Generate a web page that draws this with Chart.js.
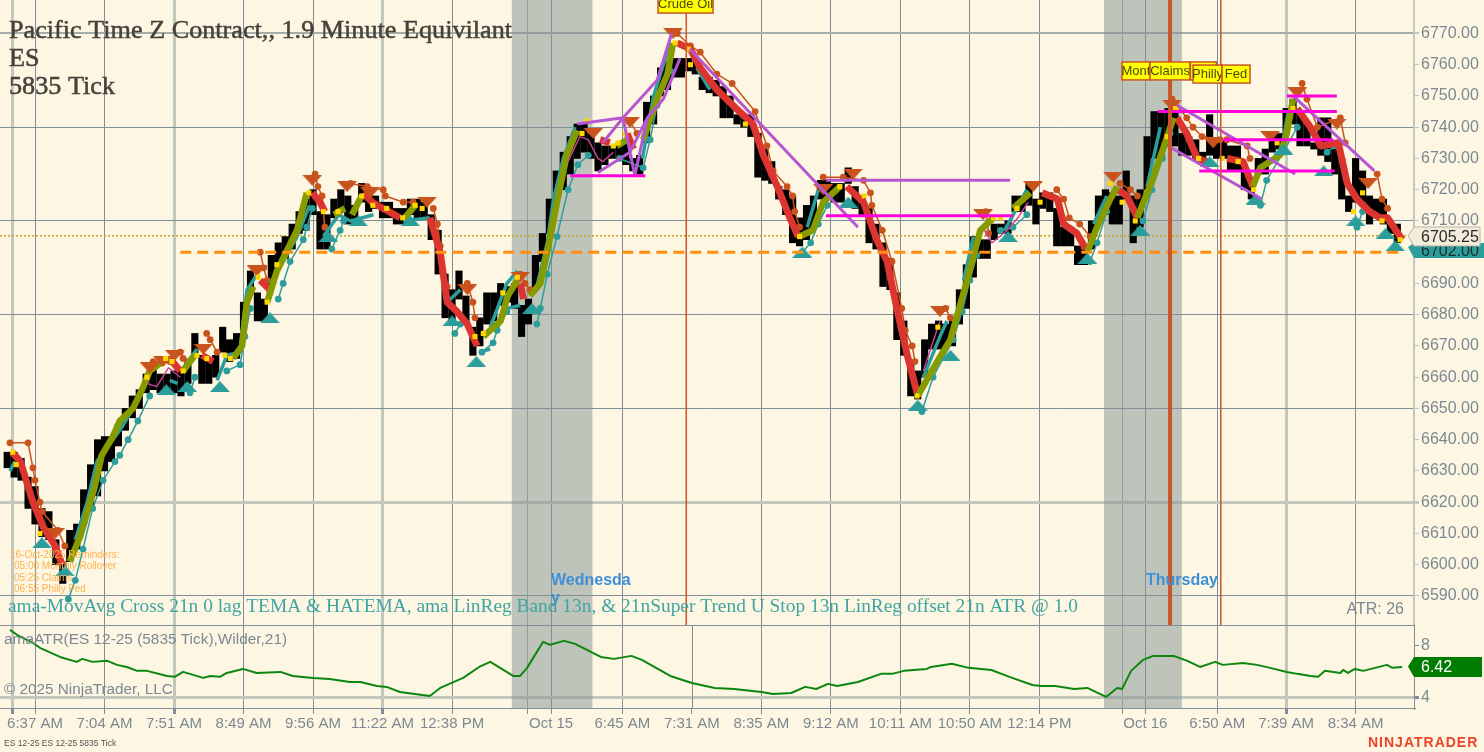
<!DOCTYPE html>
<html>
<head>
<meta charset="utf-8">
<title>ES 12-25 5835 Tick</title>
<script src="https://cdn.jsdelivr.net/npm/chart.js@4"></script>
<style>
html, body { margin: 0; padding: 0; background: #fdf6e3; overflow: hidden; }
canvas { display: block; }
</style>
</head>
<body>
<canvas id="priceChart" width="1484" height="752"></canvas>
<script>
// x position of everything below is a "slot": one black bar block = one slot
const barHighs = [6636,6636,6634,6628,6625,6618,6617,6608,6601,6611,6613,6624,6632,6640,6641,6641,6645,6650,6654,6656,
  6661,6663,6661,6661,6662,6663,6665,6674,6667,6666,6667,6676,6672,6674,6684,6694,6687,6685,6699,6703,
  6705,6709,6713,6717,6720,6713,6712,6717,6720,6718,6715,6722,6718,6718,6716,6716,6714,6714,6717,6717,
  6716,6712,6707,6693,6688,6694,6686,6676,6679,6687,6687,6690,6689,6690,6683,6685,6699,6706,6717,6726,
  6732,6737,6741,6741,6738,6735,6734,6734,6734,6736,6730,6731,6748,6750,6759,6761,6762,6762,6762,6761,
  6756,6756,6755,6753,6750,6744,6744,6744,6738,6733,6729,6721,6720,6718,6711,6715,6718,6723,6723,6722,
  6722,6727,6721,6718,6714,6709,6703,6698,6687,6678,6665,6662,6672,6677,6678,6677,6678,6688,6696,6705,
  6704,6704,6709,6709,6710,6718,6718,6722,6717,6719,6719,6714,6708,6708,6702,6701,6710,6718,6720,6719,
  6718,6726,6718,6720,6737,6745,6745,6746,6745,6738,6737,6736,6732,6744,6736,6736,6734,6734,6728,6722,
  6730,6733,6738,6738,6746,6749,6745,6741,6735,6743,6743,6733,6730,6718,6730,6726,6718,6717,6717,6709,6709];
const barLows = [6631,6628,6627,6618,6613,6609,6608,6600,6594,6601,6605,6613,6618,6622,6630,6633,6638,6643,6647,6650,
  6655,6656,6655,6656,6655,6654,6658,6667,6658,6658,6660,6668,6665,6666,6675,6687,6678,6678,6689,6695,
  6698,6701,6706,6707,6712,6701,6701,6711,6714,6709,6709,6716,6713,6714,6711,6711,6709,6709,6712,6711,
  6711,6704,6693,6679,6678,6685,6677,6667,6670,6677,6678,6683,6684,6682,6673,6677,6688,6697,6706,6717,
  6720,6725,6730,6732,6730,6726,6728,6730,6730,6728,6726,6725,6735,6741,6750,6752,6756,6756,6758,6757,
  6752,6751,6750,6743,6743,6741,6740,6737,6724,6723,6722,6717,6712,6703,6702,6704,6708,6717,6717,6716,
  6716,6722,6714,6712,6703,6701,6689,6688,6672,6667,6654,6653,6660,6669,6669,6669,6670,6677,6682,6692,
  6698,6698,6704,6706,6706,6713,6713,6715,6709,6714,6713,6702,6702,6702,6696,6696,6701,6711,6712,6709,
  6709,6717,6703,6708,6720,6730,6730,6734,6734,6731,6731,6730,6729,6731,6730,6730,6726,6726,6720,6717,
  6725,6725,6732,6733,6738,6741,6734,6734,6733,6731,6729,6725,6717,6713,6716,6716,6709,6711,6709,6706,6703];

// thick moving average, rising legs [slot, price]
const temaUpLegs = [
  [[9,6601],[10.5,6609],[12.6,6625],[13.6,6635],[15.2,6641],[16.2,6646],[18.1,6650],[19.4,6656],[20.5,6662],[23,6666]],
  [[25.3,6662],[27,6667]],
  [[32.5,6666],[33.8,6670],[34.5,6684],[35.4,6689]],
  [[37.4,6684],[38.8,6694],[41.7,6707],[43.1,6719]],
  [[47,6712],[48.6,6714]],
  [[49.6,6712],[51,6718]],
  [[57.2,6711],[58.7,6715]],
  [[68.5,6673],[71,6678],[72,6686],[73.4,6691]],
  [[75.2,6686],[76.7,6690],[77.7,6700],[79.1,6716],[80.5,6731],[82,6739]],
  [[87.7,6734],[89.2,6736]],
  [[91.5,6736],[93.5,6749],[95,6757],[95.8,6767]],
  [[114,6705],[115.9,6707],[117.4,6716],[119.8,6721]],
  [[131,6654],[133.8,6665],[135.7,6672],[138.1,6691],[140,6707],[141.9,6711]],
  [[144.7,6714],[147.2,6719]],
  [[155.4,6700],[156.8,6708],[158.7,6717],[159.7,6721]],
  [[162.6,6711],[164.9,6724],[166.9,6737],[167.8,6743]],
  [[179.2,6721],[180.3,6727],[183.1,6731],[184.1,6738],[185,6749]]
];
// thick moving average, falling legs
const temaDownLegs = [
  [[0.7,6636],[1.9,6633],[3.7,6620],[5.2,6612],[6.9,6606],[7.9,6600]],
  [[23.4,6666],[24.9,6662]],
  [[28,6667],[29.6,6665]],
  [[36.4,6691],[37.8,6688]],
  [[43.9,6719],[45,6716],[45.7,6713]],
  [[51.2,6719],[52.5,6716],[54.1,6714],[56.5,6711]],
  [[60.8,6711],[62.3,6700],[63.3,6684],[64.7,6681],[66.2,6677],[67.6,6670]],
  [[73.8,6690],[74.3,6685]],
  [[85.3,6736],[86.7,6735]],
  [[89.2,6738],[90.1,6733]],
  [[96.4,6767],[98.3,6765],[99.7,6759],[102.1,6752],[104.4,6747],[107.3,6741],[108.8,6731],[110.8,6721],[112.6,6711],[113.8,6705]],
  [[120.8,6721],[123.2,6716],[125.1,6704],[126.6,6697],[128,6682],[129.5,6667],[130.9,6655]],
  [[148.9,6719],[151.1,6717],[152,6709],[153.9,6706],[155.2,6701]],
  [[159.8,6720],[161.1,6718],[162.6,6711]],
  [[168.3,6743],[169.7,6738],[171.2,6730],[172.6,6729]],
  [[175.5,6730],[177.8,6729],[179.2,6721]],
  [[185.6,6746],[187.5,6740],[189,6734],[191.5,6735],[192.8,6722],[194.2,6717],[196,6713],[197.5,6711],[198.6,6711],[200.7,6704]]
];
// linreg band
const linRegLegs = [
  [[0.4,6630],[1.1,6633]],
  [[9.8,6608],[11.5,6620],[12.9,6633],[15.2,6640],[16.2,6643],[18.7,6652],[19.8,6658]],
  [[23.4,6659],[24.5,6658]],
  [[25,6662],[27.3,6669]],
  [[30.2,6659],[31.6,6667],[33.5,6668],[33.8,6675],[34.5,6688],[36,6693]],
  [[37.8,6690],[39.7,6697],[41.7,6705],[43.5,6715]],
  [[45.5,6705],[47.7,6712],[49.4,6710],[52.7,6712]],
  [[57,6710],[60.8,6711]],
  [[63.3,6684],[65.2,6688]],
  [[68,6668],[69.5,6669]],
  [[69.5,6676],[71.9,6690],[73.4,6694]],
  [[71.9,6682],[73.8,6683]],
  [[76.2,6689],[77.7,6703],[78.6,6717],[80,6730],[81.7,6740]],
  [[91.4,6730],[93,6750],[94.4,6760],[95.4,6767]],
  [[99.2,6759],[101.1,6752]],
  [[115.1,6708],[116.7,6720]],
  [[131.8,6660],[134.2,6673],[135.2,6678]],
  [[137.6,6691],[139,6705]],
  [[143.5,6707],[146.7,6720]],
  [[156.3,6709],[158.2,6718]],
  [[164,6721],[165.9,6740]],
  [[183.2,6731],[184.3,6745]]
];
const pinkLegs = [
  [[20.1,6658],[21.5,6657],[23.2,6663],[24.9,6660]],
  [[80.7,6729],[82.4,6737],[83.6,6736],[85,6730],[85.7,6729],[87.2,6732]],
  [[131.8,6662],[134.2,6678]],
  [[140.6,6707],[141.7,6703],[143.9,6707],[145.4,6711],[146.9,6716]]
];
// super trend stops
const stopUpLegs = [
  [[8.8,6589],[9.8,6595],[10.9,6605],[12.3,6618],[13.8,6627],[15.5,6633],[16.2,6635],[17.4,6640],[18.8,6646],[20.5,6654]],
  [[26.3,6655],[27,6660]],
  [[31.6,6662],[33.5,6664],[34.2,6673],[35,6682]],
  [[39,6685],[39.7,6690],[40.7,6697],[42.6,6704],[43.1,6708],[43.9,6714]],
  [[46.7,6701],[47.9,6707],[48.4,6710]],
  [[64.4,6674],[65.2,6677]],
  [[68.3,6668],[69.9,6671],[70.5,6675],[71.9,6681]],
  [[76.2,6677],[76.7,6682],[77.7,6693],[79.1,6705],[80.7,6720],[82.1,6728],[83.6,6731]],
  [[88.1,6730],[91.5,6727],[92.5,6736],[93.5,6747],[95.4,6758]],
  [[114.4,6700],[115.6,6703],[116.7,6709],[118,6715]],
  [[131.6,6649],[133.2,6660],[136.1,6672],[137.4,6681],[138.5,6691],[139.5,6699]],
  [[142.9,6707],[144.7,6708],[146.7,6712]],
  [[155.8,6697],[156.8,6703],[158.2,6713]],
  [[163.4,6710],[164.7,6720],[166.2,6730],[167.3,6738]],
  [[180.3,6715],[181.2,6723],[183.6,6732],[185.6,6740]],
  [[189.9,6732],[191,6734]],
  [[194.2,6708],[195,6713]]
];
const stopDownLegs = [
  [[0.4,6639],[3,6639],[3.7,6631],[4,6627],[4.7,6620],[5,6617],[7.3,6611],[8.3,6606]],
  [[21,6665],[23.4,6665]],
  [[24.9,6668],[25.3,6666],[25.9,6665]],
  [[28.7,6674],[29.2,6672],[30.2,6668]],
  [[36.4,6700],[36.9,6695],[37.4,6691],[37.8,6687]],
  [[44.3,6725],[44.7,6721],[45.3,6718],[45.7,6708]],
  [[49.4,6722],[51.8,6721],[54.1,6720],[54.4,6718],[57,6716],[58.4,6716]],
  [[61.3,6714],[61.9,6709],[62.3,6702],[62.6,6694],[63.3,6689]],
  [[66.2,6690],[67,6684],[67.3,6679]],
  [[73.8,6693],[74.5,6690],[75.2,6688]],
  [[89.6,6742],[90.6,6738]],
  [[96.4,6770],[98.3,6766],[99.7,6764],[102.1,6757],[104.3,6754],[107.6,6745],[109.3,6734],[110.2,6726],[112.2,6721],[113,6718],[113.3,6713],[114,6708]],
  [[117.4,6724],[120.3,6724],[123.2,6723],[124.2,6719],[124.4,6715],[125.9,6707],[127.3,6697],[128.7,6682],[129.2,6675],[130.2,6670],[130.6,6665]],
  [[135,6682],[135.7,6679]],
  [[140.8,6713],[141.2,6706]],
  [[151,6720],[152,6717],[152.8,6711],[154.3,6709],[155.8,6705]],
  [[160.1,6722],[161.6,6720],[162.6,6718]],
  [[167.6,6749],[169.7,6743],[170.6,6740],[171.9,6737],[174.5,6736],[175.5,6736],[178.4,6734],[178.8,6730]],
  [[186.3,6754],[187,6749],[188.5,6740],[191.8,6743],[192.5,6735]],
  [[197.1,6725],[197.8,6717],[198.6,6714]]
];
const crossDots = [[0.8,6636],[1.3,6632],[4.7,6610],[20.1,6660],[22.8,6666],[23.7,6665],[25.3,6662],[27.3,6667],[28.7,6666],[31.3,6667],
  [32.1,6666],[36.1,6692],[37.4,6684],[38.8,6696],[43.4,6719],[45.5,6713],[47.6,6713],[51,6718],[52.6,6715],[54.6,6714],[56.9,6711],
  [58.7,6715],[59.7,6714],[67.3,6673],[68.5,6674],[71.3,6687],[73.4,6692],[82.7,6738],[83.4,6742],[87.2,6734],[87.9,6735],[88.9,6738],
  [96.1,6767],[98,6765],[98.3,6760],[106.2,6741],[114,6705],[119.8,6721],[123.3,6718],[130.9,6654],[133.9,6676],[141.9,6711],[142.9,6711],
  [145.3,6714],[148.6,6716],[158.7,6722],[160.4,6716],[162.3,6710],[166.9,6737],[168.1,6746],[171.4,6730],[174.8,6730],[177.1,6729],
  [179.3,6720],[182.7,6735],[185,6746],[193.7,6713],[195,6719],[197.8,6710],[200.4,6704]];
const swingHighs = [[6.9,6610],[20.5,6663],[22.4,6665],[24.1,6667],[28.2,6669],[35.9,6694],[43.9,6723],[48.9,6721],[52.2,6719],[60.4,6716],
  [66.2,6688],[73.8,6692],[84.3,6738],[89.6,6741.5],[95.8,6770],[117.4,6720],[121.7,6725],[134.2,6681],[140.4,6712],[147.6,6721],
  [159.1,6724],[167.6,6747],[173.5,6735],[181.7,6737],[185.6,6751],[191.3,6741],[195.8,6722]];
const swingLows = [[5,6607],[8.3,6598],[22.9,6656],[25.9,6657],[30.6,6657],[37.8,6679],[46.2,6705],[50.5,6710],[58,6710],[64,6678],
  [67.5,6665],[75.5,6682],[114.4,6700],[121,6716],[131,6651],[135.7,6667],[144,6705],[155.4,6698],[163,6707],[173,6729],
  [179.6,6717],[183.6,6733],[189.4,6726],[194,6710],[198.3,6706],[199.7,6702]];
// hand drawn levels
const trendLines = [
  [[82,6741],[88.6,6743],[93.5,6755],[95.6,6770]],
  [[85,6725.5],[89.6,6732],[92.1,6743],[94.4,6749],[96.8,6762]],
  [[85.7,6735],[88.6,6743],[90.3,6724.5],[92.1,6743]],
  [[98.2,6765],[122.4,6708]],
  [[117.8,6723],[144.3,6723]],
  [[168.3,6747],[185.3,6725]],
  [[167,6734],[180.5,6717]],
  [[185,6750],[196.7,6726]]
];
const levelLines = [
  [[81,6724.5],[91.8,6724.5]],
  [[117.8,6711.7],[144.7,6711.7]],
  [[165.6,6745],[191.3,6745]],
  [[184.1,6750],[191.3,6750]],
  [[175,6736],[190.8,6736]],
  [[171.5,6726],[191,6726]]
];
const dashedLevel = [[24.9,6700],[200.9,6700]];
const lastPrice = 6705.25;
const entryPrice = 6702;
const atrNow = 6.42;

const atrSlots = [0.4,1.4,3.7,4.7,7.6,10,10.8,12.3,14.4,15.8,17.2,18.7,20.1,23,24.1,25.3,28.2,29.2,30.6,31.6,33.9,35.9,39.3,41.1,44,46.4,49.3,50.8,53.2,54.6,56.5,60.8,
  62.3,65.6,67.9,69.5,72.8,73.8,74.8,77.1,78.1,80.1,81.7,85.4,87.3,89.8,91.3,95.4,98.5,101.8,104.6,108.5,110.2,112.8,114.8,116.4,118.1,119.4,122.4,125.7,127.3,129,132.3,132.9,135.9,
  138.3,141.6,144.2,147.5,148.8,150.8,153.5,155.4,158.1,159.7,160.4,161.7,163.4,164.9,167.8,169.8,171.6,173.8,174.9,177.8,179.8,181.7,184.1,185.6,187.5,188.6,189.6,191.8,192.2,192.9,193.9,195.1,196.8,198.5,199.3,200.7];
const atrValues = [9.23,8.85,8.23,7.85,7.15,6.77,7,6.77,6.85,6.54,6.38,6.08,6.08,5.69,5.62,6,5.54,5.69,5.62,5.92,6.23,5.92,6,5.69,5.54,5.46,5.23,5.23,4.92,4.85,4.46,4.15,
  4.77,5.54,6.38,6.77,5.69,5.69,6.31,8.31,8.08,8.38,8.15,7.15,7,7.23,6.92,5.69,5.15,4.77,4.69,4.46,4.31,4.38,4.85,4.69,5.08,4.92,5.23,5.85,5.85,6.08,6.23,6.38,6.62,
  6.31,6.15,5.62,5,4.92,4.92,4.69,4.77,4.08,4.77,4.69,6.08,6.92,7.23,7.23,6.85,6.38,6.77,6.54,6.69,6.54,6.31,6,5.85,5.69,5.62,6.08,5.92,6.15,5.92,6.23,6.08,6.31,6.54,6.31,6.38];

const xTickSlots = [0.7,4,14,24,34,44,54,64,74.8,78.25,88.5,98.5,108.5,118.5,128.5,138.5,148.5,160.4,163.75,174.1,184,194];
const xTickLabels = ['','6:37 AM','7:04 AM','7:51 AM','8:49 AM','9:56 AM','11:22 AM','12:38 PM','','Oct 15','6:45 AM','7:31 AM','8:35 AM','9:12 AM','10:11 AM','10:50 AM','12:14 PM','','Oct 16','6:50 AM','7:39 AM','8:34 AM'];
const softGridSlots = [0.7,24,54,184];
const bandGridSlots = [74.8,160.4];
const atrOnlyGridSlots = [98.5];
const priceTicks = [6590,6600,6610,6620,6630,6640,6650,6660,6670,6680,6690,6700,6710,6720,6730,6740,6750,6760,6770];
const priceGridLevels = [6770,6740,6710,6680,6650,6620,6590];
const atrTicks = [4,8];

const sessionBands = [[72.6,84.2],[157.8,169]];
const newsLines = [[97.7,1.5],[167.3,4],[174.6,1.5]];
const newsBoxes = [
  ['Crude Oil',97.6,6779.4,55],
  ['Mont',162.4,6758,28],
  ['Claims',167.3,6758,40],
  ['',172.1,6758,26],
  ['Philly',172.7,6757,29],
  ['Fed',176.8,6757,28]
];

const GRID = '#7f8e98', SOFT = '#c3c8bd', AXIS_TEXT = '#7c8993';
const ORANGE = '#c9531c', TEAL = '#2b9e9b', SANS = '"Liberation Sans", Arial, sans-serif', SERIF = '"Liberation Serif", serif';

const toPoints = rows => rows.map(r => ({x: r[0], y: r[1]}));
const joinLegs = legs => legs.flatMap(leg => [...toPoints(leg), {x: leg[leg.length - 1][0], y: null}]);

function triangleSprite(color, pointsDown) {
    const c = document.createElement('canvas');
    c.width = 20; c.height = 11;
    const g = c.getContext('2d');
    g.fillStyle = color;
    g.beginPath();
    if (pointsDown) { g.moveTo(0, 0); g.lineTo(20, 0); g.lineTo(10, 11); }
    else { g.moveTo(10, 0); g.lineTo(20, 11); g.lineTo(0, 11); }
    g.fill();
    return c;
}

const lineSet = (data, color, width, extra) => Object.assign({
    type: 'line', data, borderColor: color, backgroundColor: color, borderWidth: width,
    pointRadius: 0, tension: 0, spanGaps: false, borderJoinStyle: 'round'
}, extra);

const datasets = [
    lineSet(toPoints(dashedLevel), '#ff8f0f', 3, {borderDash: [11, 6]}),
    lineSet(joinLegs(levelLines), '#ff00dc', 3),
    lineSet(joinLegs(trendLines), '#b656d2', 3),
    {type: 'line', data: toPoints(crossDots), showLine: false, pointStyle: 'rect', pointRadius: 3.6, backgroundColor: '#ffd600', borderWidth: 0},
    {type: 'line', data: toPoints(swingHighs), showLine: false, pointStyle: triangleSprite(ORANGE, true)},
    {type: 'line', data: toPoints(swingLows), showLine: false, pointStyle: triangleSprite(TEAL, false)},
    lineSet(joinLegs(pinkLegs), '#d0409c', 1.4),
    lineSet(joinLegs(temaUpLegs), '#879b00', 6.5),
    lineSet(joinLegs(temaDownLegs), '#dc3530', 7),
    lineSet(joinLegs(linRegLegs), TEAL, 3.5),
    lineSet(joinLegs(stopUpLegs), TEAL, 1.5, {pointRadius: 3.4, pointBackgroundColor: TEAL, pointBorderWidth: 0}),
    lineSet(joinLegs(stopDownLegs), ORANGE, 1.5, {pointRadius: 3.4, pointBackgroundColor: ORANGE, pointBorderWidth: 0}),
    {type: 'bar', data: barHighs.map((h, i) => ({x: i, y: [barLows[i], h]})), backgroundColor: '#000', barThickness: 6.5, grouped: false},
    lineSet([{x: -1.036, y: lastPrice}, {x: 202.4, y: lastPrice}], '#c9a52c', 1.6, {borderDash: [2, 2]}),
    lineSet(atrSlots.map((s, i) => ({x: s, y: atrValues[i]})), '#0b860f', 2, {yAxisID: 'yAtr'})
].map((d, i) => Object.assign(d, {order: i}));

function priceTag(ctx, y, top, bottom, right, fill, stroke, color, text) {
    ctx.beginPath();
    ctx.moveTo(1408, y);
    ctx.lineTo(1414, top);
    ctx.lineTo(right, top);
    ctx.lineTo(right, bottom);
    ctx.lineTo(1414, bottom);
    ctx.closePath();
    ctx.fillStyle = fill;
    ctx.fill();
    if (stroke) { ctx.strokeStyle = stroke; ctx.lineWidth = 1; ctx.stroke(); }
    ctx.fillStyle = color;
    ctx.font = '16px ' + SANS;
    ctx.textAlign = 'left';
    ctx.textBaseline = 'middle';
    ctx.fillText(text, 1421, (top + bottom) / 2 + 1);
}

const overlays = {
    id: 'overlays',
    beforeDatasetsDraw(chart) {
        const {ctx, chartArea, scales} = chart;
        ctx.save();
        ctx.fillStyle = 'rgba(129,146,145,0.5)';
        sessionBands.forEach(b => {
            const l = scales.x.getPixelForValue(b[0]), r = scales.x.getPixelForValue(b[1]);
            ctx.fillRect(l, chartArea.top, r - l, chartArea.bottom - chartArea.top);
        });
        // pane separator and the ticks that only show in the lower pane
        ctx.strokeStyle = GRID;
        ctx.lineWidth = 1;
        ctx.beginPath();
        ctx.moveTo(0, scales.y.bottom + 0.5);
        ctx.lineTo(chartArea.right, scales.y.bottom + 0.5);
        atrOnlyGridSlots.forEach(s => {
            const px = Math.round(scales.x.getPixelForValue(s)) + 0.5;
            ctx.moveTo(px, scales.yAtr.top);
            ctx.lineTo(px, chartArea.bottom);
        });
        ctx.stroke();
        ctx.restore();
    },
    afterDatasetsDraw(chart) {
        const {ctx, scales} = chart;
        ctx.save();
        ctx.strokeStyle = '#c9552a';
        newsLines.forEach(n => {
            const px = scales.x.getPixelForValue(n[0]);
            ctx.lineWidth = n[1];
            ctx.beginPath();
            ctx.moveTo(px, 0);
            ctx.lineTo(px, scales.y.bottom);
            ctx.stroke();
        });
        // news flags
        ctx.font = '13px ' + SANS;
        ctx.textAlign = 'center';
        ctx.textBaseline = 'middle';
        newsBoxes.forEach(b => {
            const cx = scales.x.getPixelForValue(b[1]), cy = scales.y.getPixelForValue(b[2]);
            ctx.fillStyle = '#ffff00';
            ctx.fillRect(cx - b[3] / 2, cy - 9, b[3], 18);
            ctx.strokeStyle = '#c9552a';
            ctx.lineWidth = 1.5;
            ctx.strokeRect(cx - b[3] / 2, cy - 9, b[3], 18);
            ctx.fillStyle = '#4a4a10';
            ctx.fillText(b[0], cx, cy);
        });

        ctx.textAlign = 'left';
        ctx.textBaseline = 'alphabetic';
        // regular serif with a hairline stroke, the bold cut is too heavy here
        ctx.fillStyle = '#46413a';
        ctx.strokeStyle = '#46413a';
        ctx.lineWidth = 0.5;
        ctx.font = '26.2px ' + SERIF;
        [['Pacific Time Z Contract,, 1.9 Minute Equivilant', 38], ['ES', 66], ['5835 Tick', 94]].forEach(t => {
            ctx.fillText(t[0], 9, t[1]);
            ctx.strokeText(t[0], 9, t[1]);
        });

        ctx.fillStyle = '#ffb24d';
        ctx.font = '10px ' + SANS;
        ctx.fillText('16-Oct-2025 Reminders:', 10, 558);
        ctx.fillText('05:00 Monthly Rollover', 14, 569);
        ctx.fillText('05:25 Claims', 14, 581);
        ctx.fillText('06:55 Philly Fed', 14, 592);

        ctx.fillStyle = '#3f8fd8';
        ctx.font = 'bold 16px ' + SANS;
        ctx.fillText('Wednesda', 551, 585);
        ctx.fillText('y', 551, 603);
        ctx.fillText('Thursday', 1146, 585);

        ctx.fillStyle = '#3fa5a2';
        ctx.font = '19.4px ' + SERIF;
        ctx.fillText('ama-MovAvg Cross 21n 0 lag TEMA & HATEMA, ama LinReg Band 13n, & 21nSuper Trend U Stop 13n LinReg offset 21n ATR @ 1.0', 8, 612);

        ctx.fillStyle = AXIS_TEXT;
        ctx.font = '16px ' + SANS;
        ctx.textAlign = 'right';
        ctx.fillText('ATR: 26', 1404, 614);
        ctx.textAlign = 'left';
        ctx.font = '15.4px ' + SANS;
        ctx.fillText('amaATR(ES 12-25 (5835 Tick),Wilder,21)', 4, 644);
        ctx.font = '15.3px ' + SANS;
        ctx.fillText('\u00a9 2025 NinjaTrader, LLC', 4, 694);

        ctx.fillStyle = '#555';
        ctx.font = '8.5px ' + SANS;
        ctx.fillText('ES 12-25 ES 12-25 5835 Tick', 4, 746);
        ctx.fillStyle = '#e8452a';
        ctx.font = 'bold 14px ' + SANS;
        ctx.letterSpacing = '1px';
        ctx.fillText('NINJATRADER', 1368, 747);
        ctx.letterSpacing = '0px';

        priceTag(ctx, scales.y.getPixelForValue(entryPrice) + 1, 243, 258, 1484, TEAL, null, '#1d2b2b', entryPrice.toFixed(2));
        priceTag(ctx, scales.y.getPixelForValue(lastPrice), 227, 246, 1480, '#f3ecdb', '#b8b5a8', '#2a2a2a', lastPrice.toFixed(2));
        priceTag(ctx, scales.yAtr.getPixelForValue(atrNow), 657, 677, 1482, '#007c00', null, '#fff', atrNow.toFixed(2));
        ctx.restore();
    }
};

const noPadding = s => { s.paddingLeft = s.paddingRight = s.paddingTop = s.paddingBottom = 0; };

new Chart(document.getElementById('priceChart').getContext('2d'), {
    data: { datasets },
    plugins: [overlays],
    options: {
        responsive: false,
        animation: false,
        events: [],
        layout: { padding: 0, autoPadding: false },
        plugins: { legend: { display: false }, tooltip: { enabled: false } },
        scales: {
            x: {
                type: 'linear',
                offset: false,
                min: -1.036,
                max: 202.4,
                afterBuildTicks: s => { s.ticks = xTickSlots.map(v => ({value: v})); },
                afterFit: s => { s.height = 44; noPadding(s); },
                border: { color: GRID, width: 1 },
                grid: {
                    offset: false,
                    tickLength: 6,
                    color: c => {
                        const v = c.tick && c.tick.value;
                        if (atrOnlyGridSlots.includes(v)) return 'rgba(0,0,0,0)';
                        if (softGridSlots.includes(v)) return SOFT;
                        if (bandGridSlots.includes(v)) return '#a3aaa6';
                        return GRID;
                    },
                    lineWidth: c => softGridSlots.includes(c.tick && c.tick.value) ? 3 : 1,
                    tickColor: GRID
                },
                ticks: {
                    autoSkip: false,
                    maxRotation: 0,
                    padding: 1,
                    color: AXIS_TEXT,
                    font: { family: SANS, size: 15 },
                    callback: (v, i) => xTickLabels[i]
                }
            },
            y: {
                type: 'linear',
                position: 'right',
                stack: 'panes',
                stackWeight: 625,
                min: 6580.7,
                max: 6780.7,
                afterBuildTicks: s => { s.ticks = priceTicks.map(v => ({value: v})); },
                afterFit: s => { s.width = 70; noPadding(s); },
                border: { color: SOFT, width: 2 },
                grid: {
                    tickLength: 5,
                    color: c => {
                        const v = c.tick && c.tick.value;
                        if (!priceGridLevels.includes(v)) return 'rgba(0,0,0,0)';
                        if (v === 6620) return SOFT;
                        return v === 6770 ? '#a4adac' : GRID;
                    },
                    lineWidth: c => {
                        const v = c.tick && c.tick.value;
                        return v === 6620 ? 3 : (v === 6770 ? 2 : 1);
                    },
                    tickColor: SOFT
                },
                ticks: {
                    autoSkip: false,
                    padding: 2,
                    color: AXIS_TEXT,
                    font: { family: SANS, size: 16 },
                    callback: v => v.toFixed(2)
                }
            },
            yAtr: {
                type: 'linear',
                position: 'right',
                stack: 'panes',
                stackWeight: 83,
                min: 3.23,
                max: 9.6,
                afterBuildTicks: s => { s.ticks = atrTicks.map(v => ({value: v})); },
                afterFit: s => { s.width = 70; noPadding(s); },
                border: { color: GRID, width: 1 },
                grid: {
                    tickLength: 5,
                    color: c => (c.tick && c.tick.value === 4) ? SOFT : 'rgba(0,0,0,0)',
                    lineWidth: c => (c.tick && c.tick.value === 4) ? 3 : 1,
                    tickColor: GRID
                },
                ticks: {
                    autoSkip: false,
                    padding: 2,
                    color: AXIS_TEXT,
                    font: { family: SANS, size: 16 }
                }
            }
        }
    }
});
</script>
</body>
</html>
